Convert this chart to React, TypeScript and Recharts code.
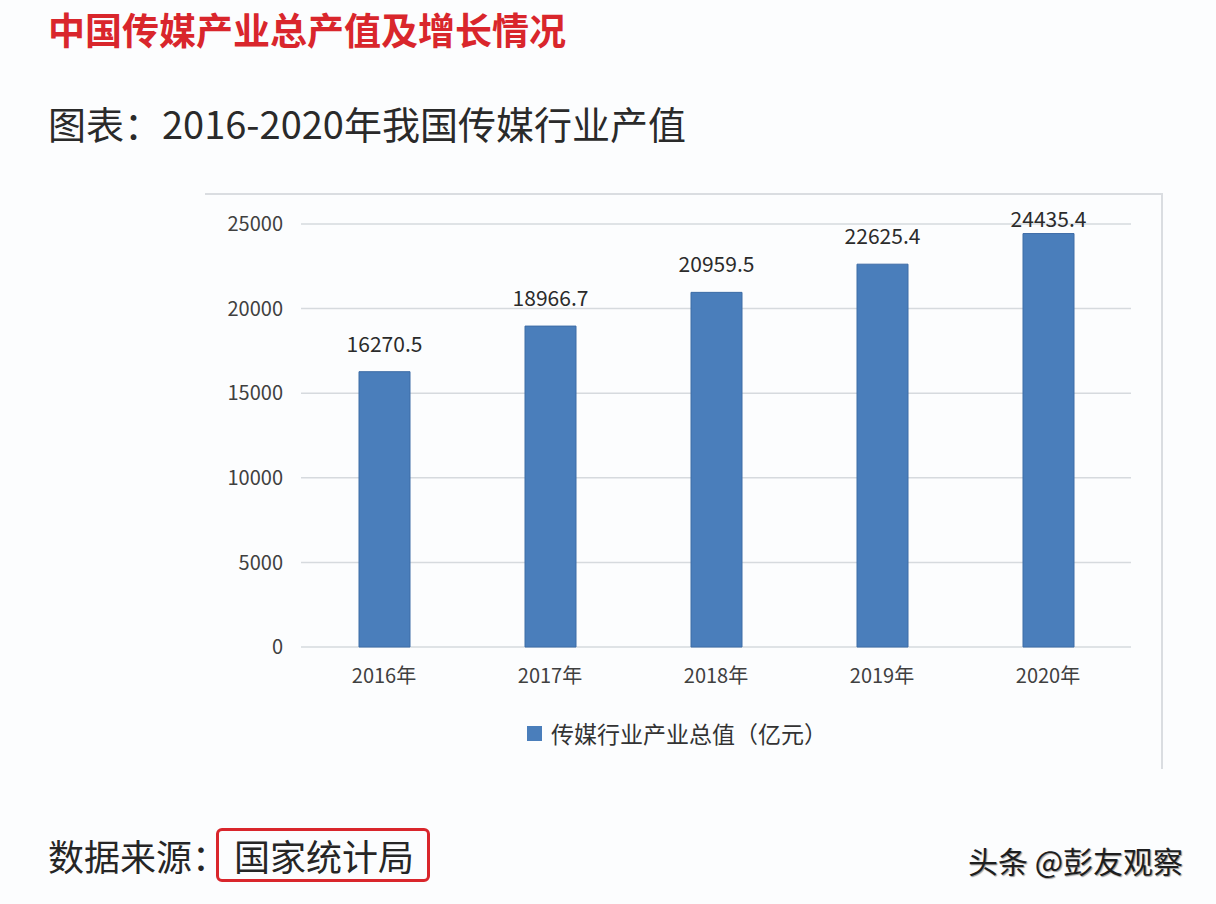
import { BarChart, Bar, XAxis, YAxis, CartesianGrid, Legend, LabelList } from 'recharts';

const years = ['2016年', '2017年', '2018年', '2019年', '2020年'];
const outputValues = [16270.5, 18966.7, 20959.5, 22625.4, 24435.4];
const yTicks = [0, 5000, 10000, 15000, 20000, 25000];

const seriesName = '传媒行业产业总值（亿元）';
const font = '"Noto Sans CJK SC", "Noto Sans", sans-serif';
const barColor = '#4a7ebb';

const chartData = years.map((year, i) => ({ year, value: outputValues[i] }));

// value label above each bar, kept inside the chart box at the top
function ValueLabel(props: any) {
  const { x, y, width, value } = props;
  const cy = Math.max(Number(y) - 29, 24);
  return (
    <text
      x={Number(x) + Number(width) / 2}
      y={cy}
      textAnchor="middle"
      dominantBaseline="central"
      fontSize={21}
      fill="#2b2b2b"
      fontFamily={font}
    >
      {value}
    </text>
  );
}

function LegendContent() {
  return (
    <div style={{ display: 'flex', alignItems: 'center', height: 40, fontFamily: font }}>
      <span style={{ width: 15, height: 15, background: barColor, marginRight: 9, display: 'inline-block' }} />
      <span style={{ fontSize: 23, color: '#333' }}>{seriesName}</span>
    </div>
  );
}

export default function App() {
  return (
    <div
      style={{
        position: 'absolute',
        left: 0,
        top: 0,
        width: 1216,
        height: 904,
        background: '#fcfdfe',
        fontFamily: font,
        overflow: 'hidden'
      }}
    >
      <div
        style={{
          position: 'absolute',
          left: 48,
          top: 10,
          fontSize: 37,
          lineHeight: '38px',
          fontWeight: 700,
          color: '#d9262c',
          whiteSpace: 'nowrap'
        }}
      >
        中国传媒产业总产值及增长情况
      </div>
      <div
        style={{
          position: 'absolute',
          left: 48,
          top: 102,
          fontSize: 38,
          lineHeight: '42px',
          color: '#2a2a2a',
          whiteSpace: 'nowrap'
        }}
      >
        图表：2016-2020年我国传媒行业产值
      </div>

      {/* chart frame: only top and right edges show */}
      <div style={{ position: 'absolute', left: 205, top: 193, width: 958, height: 2, background: '#dadde1' }} />
      <div style={{ position: 'absolute', left: 1161, top: 193, width: 2, height: 576, background: '#dadde1' }} />

      <div style={{ position: 'absolute', left: 205, top: 194 }}>
        <BarChart
          width={957}
          height={574}
          data={chartData}
          margin={{ top: 30, right: 31, left: 0, bottom: 15 }}
        >
          <CartesianGrid vertical={false} stroke="#d6dade" strokeWidth={1.5} />
          <XAxis
            dataKey="year"
            height={66}
            axisLine={false}
            tickLine={false}
            tickMargin={16}
            tick={{ fontSize: 20, fill: '#404040', fontFamily: font }}
          />
          <YAxis
            width={96}
            domain={[0, 25000]}
            ticks={yTicks}
            axisLine={false}
            tickLine={false}
            tickMargin={12}
            tick={{ fontSize: 20, fill: '#404040', fontFamily: font }}
          />
          <Legend
            verticalAlign="bottom"
            content={<LegendContent />}
            wrapperStyle={{ left: 322, width: 420, height: 40 }}
          />
          <Bar
            dataKey="value"
            name={seriesName}
            fill={barColor}
            stroke="#3d6ca6"
            strokeWidth={1}
            barSize={51}
            isAnimationActive={false}
          >
            <LabelList dataKey="value" content={<ValueLabel />} />
          </Bar>
        </BarChart>
      </div>

      <div
        style={{
          position: 'absolute',
          left: 48,
          top: 834,
          fontSize: 36,
          lineHeight: '42px',
          color: '#262626',
          whiteSpace: 'nowrap'
        }}
      >
        数据来源：
      </div>
      <div
        style={{
          position: 'absolute',
          left: 216,
          top: 828,
          width: 214,
          height: 54,
          boxSizing: 'border-box',
          border: '3px solid #d9262c',
          borderRadius: 6
        }}
      />
      <div
        style={{
          position: 'absolute',
          left: 234,
          top: 834,
          fontSize: 36,
          lineHeight: '42px',
          color: '#262626',
          whiteSpace: 'nowrap'
        }}
      >
        国家统计局
      </div>

      <div
        style={{
          position: 'absolute',
          left: 968,
          top: 843,
          fontSize: 30,
          lineHeight: '34px',
          color: '#1e1e1e',
          whiteSpace: 'nowrap',
          textShadow: '1px 1px 1px #9a9a9a'
        }}
      >
        头条 @彭友观察
      </div>
    </div>
  );
}
